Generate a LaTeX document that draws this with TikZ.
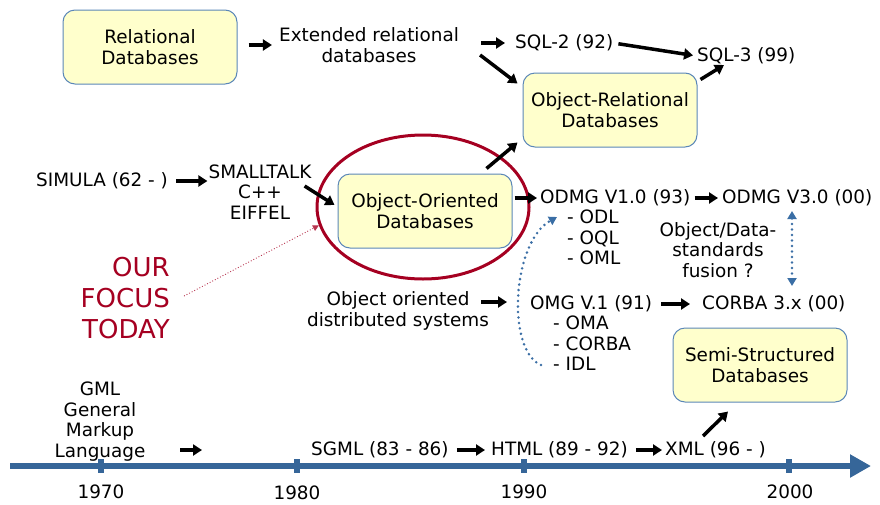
\documentclass[tikz,border=0pt]{standalone}
\usepackage{fontspec}
\setmainfont{DejaVu Sans}
\usetikzlibrary{arrows.meta,shapes.geometric,calc}
\definecolor{boxfill}{HTML}{FFFFCC}
\definecolor{boxline}{HTML}{5B87B8}
\definecolor{focusred}{HTML}{A50021}
\definecolor{axisblue}{HTML}{366699}
\definecolor{dotblue}{HTML}{3A6EA5}

\begin{document}
\begin{tikzpicture}[x=1pt,y=-1pt,
  lbl/.style={inner sep=0pt, font=\fontsize{18.4}{20.5}\selectfont, align=center},
  listlbl/.style={lbl, align=left, anchor=north west},
  dbbox/.style={lbl, draw=boxline, line width=1pt, fill=boxfill,
    rounded corners=12pt, minimum width=174pt, minimum height=74pt},
  arr/.style={line width=3.5pt, -{Triangle[length=9pt,width=11pt]}},
  bluedots/.style={dotblue, line width=2.8pt, line cap=round,
    dash pattern=on 0pt off 5.5pt, -{Triangle[length=8pt,width=9pt]}},
  axis/.style={axisblue, line width=6pt}
]
\useasboundingbox (0,0) rectangle (880,504);

% database boxes
\node[dbbox] (rel)  at (150,47)  {Relational\\Databases};
\node[dbbox] (ordb) at (610,110) {Object-Relational\\Databases};
\node[dbbox] (oodb) at (425,211) {Object-Oriented\\Databases};
\node[dbbox] (ssdb) at (760,365) {Semi-Structured\\Databases};

% highlight ring round the OO box
\node[draw=focusred, line width=3pt, ellipse, inner sep=0pt,
  minimum width=212pt, minimum height=144pt] (focusring) at (423,207) {};

% relational branch
\node[lbl] (ext) at (369,45) {Extended relational\\databases};
\node[lbl, anchor=west] (sql2) at (515,43) {SQL-2 (92)};
\node[lbl, anchor=west] (sql3) at (697,56) {SQL-3 (99)};

% object branch
\node[lbl, anchor=west] (simula) at (36,181) {SIMULA (62 - )};
\node[lbl] (st) at (260,192) {SMALLTALK\\C++\\EIFFEL};
\node[lbl, anchor=west] (odmg1) at (540,198) {ODMG V1.0 (93)};
\node[lbl, anchor=west] (odmg3) at (722,198) {ODMG V3.0 (00)};
\node[listlbl] (odmlist) at (567,210) {- ODL\\- OQL\\- OML};
\node[lbl] (fusion) at (718,250) {Object/Data-\\standards\\fusion ?};

\node[inner sep=0pt, font=\fontsize{26}{31}\selectfont, text=focusred,
  align=right, anchor=east] (focus) at (170,298) {OUR\\FOCUS\\TODAY};

% distributed objects branch
\node[lbl] (oodist) at (398,311) {Object oriented\\distributed systems};
\node[lbl, anchor=west] (omg) at (530,304) {OMG V.1 (91)};
\node[lbl, anchor=west] (corba) at (702,304) {CORBA 3.x (00)};
\node[listlbl] (omglist) at (553,316) {- OMA\\- CORBA\\- IDL};

% markup branch
\node[lbl, anchor=north] (gml) at (100,382) {GML\\General\\Markup\\Language};
\node[lbl, anchor=west] (sgml) at (311,450) {SGML (83 - 86)};
\node[lbl, anchor=west] (html) at (491,450) {HTML (89 - 92)};
\node[lbl, anchor=west] (xml)  at (665,450) {XML (96 - )};

% time axis
\draw[axis, -{Triangle[length=21pt,width=22pt]}] (10,466) -- (871,466);
\foreach \x in {101,297,524,789} \draw[axis] (\x,459) -- (\x,473);
\node[lbl] (y1970) at (101,492) {1970};
\node[lbl] (y1980) at (297,493) {1980};
\node[lbl] (y1990) at (524,492) {1990};
\node[lbl] (y2000) at (790,492) {2000};

% development arrows
\draw[arr, shorten <=11pt, shorten >=7pt] (rel.east |- ext.west) -- (ext.west);
\draw[arr, shorten <=22pt, shorten >=10pt] (ext.east |- sql2.west) -- (sql2.west);
\draw[arr, shorten <=5pt, shorten >=4pt] (sql2.east) -- (sql3.west);
\draw[arr] ($(ext.east)+(21,10)$) -- ($(ordb.north west)+(-5,11)$);
\draw[arr] ($(ordb.north east)+(3,7)$) -- ($(sql3.west)+(27,9)$);
\draw[arr] ($(oodb.north east)+(-26,-5)$) -- ($(ordb.south west)+(-5,-5)$);
\draw[arr, shorten <=8pt, shorten >=1pt] (simula.east) -- (simula.east -| st.west);
\draw[arr] ($(st.east)+(-7,-6)$) -- ($(oodb.west)+(-3,-6)$);
\draw[arr, shorten <=2pt, shorten >=3pt] (oodb.east |- odmg1.west) -- (odmg1.west);
\draw[arr, shorten <=4pt, shorten >=4pt] (odmg1.east) -- (odmg3.west);
\draw[arr] ($(oodist.east)+(-8,-9)$) -- ($(omg.west)+(-23,-2)$);
\draw[arr, shorten <=9pt, shorten >=12pt] (omg.east) -- (corba.west);
\draw[arr] ($(sgml.west)+(-131,0)$) -- ($(sgml.west)+(-109,0)$);
\draw[arr, shorten <=8pt, shorten >=6pt] (sgml.east) -- (html.west);
\draw[arr, shorten <=8pt, shorten >=3pt] (html.east) -- (xml.west);
\draw[arr] ($(xml.west)+(38,-14)$) -- ($(ssdb.south)+(-32,9)$);

% pointer from the caption to the ring
\draw[focusred!80, line width=0.9pt, dotted, -{Triangle[length=6pt,width=6pt]}]
  ($(focus.east)+(14,-2)$) -- (focusring.190);

% dotted relations between standards
\draw[bluedots] ($(omglist.south west)+(-12,-6)$)
  .. controls +(-35,-15) and +(-45,25) .. ($(odmlist.north west)+(-10,7)$);
\draw[bluedots, {Triangle[length=8pt,width=9pt]}-{Triangle[length=8pt,width=9pt]}]
  ($(odmg3.west)+(70,13)$) -- ($(corba.west)+(90,-18)$);
\end{tikzpicture}
\end{document}
